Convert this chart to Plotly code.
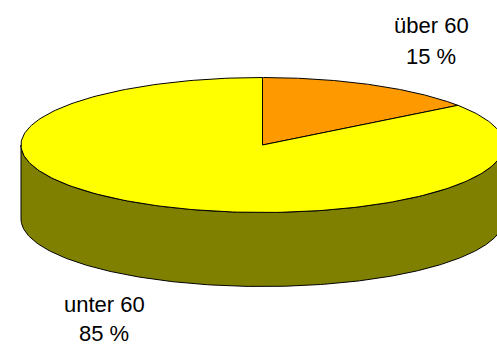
import numpy as np
import plotly.graph_objects as go

# Age groups and their shares (percent)
labels = ["über 60", "unter 60"]
values = [15, 85]
top_colors = ["#FF9900", "#FFFF00"]
side_color = "#808000"

W, H = 497, 347
cx, cy = 262.5, 145    # centre of the top face
rx, ry = 241.5, 67.5   # ellipse radii
depth = 74             # thickness of the disc


def ellipse_pts(a0, a1, yoff=0.0, n=240):
    t = np.radians(np.linspace(a0, a1, n))
    return cx + rx * np.cos(t), cy + yoff - ry * np.sin(t)


fig = go.Figure()

# Front wall of the disc (lower half of the ellipse, extruded downward)
xs1, ys1 = ellipse_pts(180, 360)
xs2, ys2 = ellipse_pts(360, 180, depth)
fig.add_trace(go.Scatter(
    x=np.concatenate([xs1, xs2, xs1[:1]]),
    y=np.concatenate([ys1, ys2, ys1[:1]]),
    mode="lines", fill="toself", fillcolor=side_color,
    line=dict(color="black", width=1), hoverinfo="skip", showlegend=False))

# Top face slices, starting at 12 o'clock and running clockwise
total = sum(values)
start = 90.0
for lab, val, col in zip(labels, values, top_colors):
    sweep = 360.0 * val / total
    xs, ys = ellipse_pts(start, start - sweep)
    fig.add_trace(go.Scatter(
        x=np.concatenate([[cx], xs, [cx]]),
        y=np.concatenate([[cy], ys, [cy]]),
        mode="lines", fill="toself", fillcolor=col,
        line=dict(color="black", width=1), name=lab,
        hoverinfo="name", showlegend=False))
    start -= sweep

# Category name and percentage, one line each
label_font = dict(family="Liberation Sans, Arial", size=22, color="black")
label_pos = [(431, 25, 56), (104, 304, 333)]
for lab, val, (lx, y1, y2) in zip(labels, values, label_pos):
    fig.add_annotation(x=lx, y=y1, text=lab, showarrow=False, font=label_font,
                       xanchor="center", yanchor="middle")
    fig.add_annotation(x=lx, y=y2, text=f"{val} %", showarrow=False, font=label_font,
                       xanchor="center", yanchor="middle")

fig.update_layout(
    width=W, height=H, margin=dict(l=0, r=0, t=0, b=0),
    paper_bgcolor="white", plot_bgcolor="white",
    xaxis=dict(range=[0, W], visible=False, fixedrange=True),
    yaxis=dict(range=[H, 0], visible=False, fixedrange=True),
)

fig.write_html("out.html")
